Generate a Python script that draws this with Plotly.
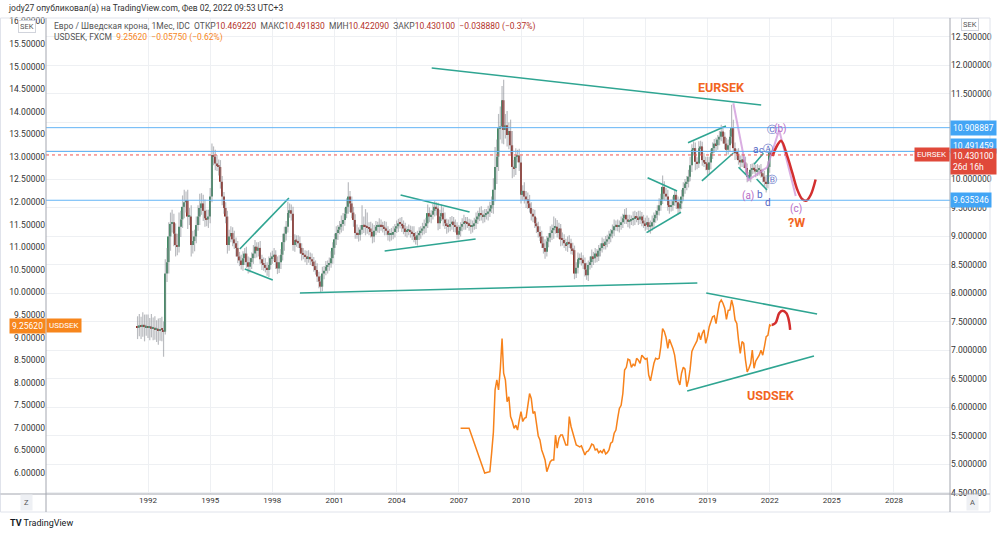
import pandas as pd
import plotly.graph_objects as go

# ---------------- data ----------------
eur_first_month = "1991-07-01"
eur_first_open = 7.42
eur_close = [
    7.40, 7.44, 7.42, 7.45, 7.41, 7.43,
    7.40, 7.42, 7.38, 7.40, 7.37, 7.38, 7.35, 7.37, 7.36, 7.33, 8.35, 8.55,
    9.00, 9.22, 9.25, 9.05, 8.85, 8.82, 9.17, 9.30, 9.52, 9.60, 9.64, 9.35,
    9.35, 8.85, 8.92, 9.00, 9.20, 9.35, 9.50, 9.58, 9.45, 9.32, 9.30, 9.35,
    9.70, 10.43, 10.40, 10.28, 10.25, 10.22, 9.96, 9.70, 9.50, 9.35, 8.85, 9.00,
    9.06, 8.95, 8.88, 8.80, 8.65, 8.58, 8.50, 8.62, 8.70, 8.55, 8.47, 8.55,
    8.62, 8.70, 8.82, 8.75, 8.80, 8.60, 8.53, 8.50, 8.45, 8.41, 8.50, 8.62,
    8.65, 8.68, 8.55, 8.44, 8.55, 8.68, 8.90, 9.05, 9.17, 9.41, 9.46, 9.40,
    8.85, 8.94, 8.92, 8.88, 8.80, 8.70, 8.68, 8.65, 8.62, 8.64, 8.60, 8.56,
    8.48, 8.41, 8.30, 8.21, 8.12, 8.35, 8.40, 8.47, 8.50, 8.53, 8.62, 8.80,
    8.95, 9.06, 9.12, 9.17, 9.22, 9.29, 9.40, 9.52, 9.70, 9.58, 9.42, 9.29,
    9.06, 9.04, 9.03, 9.12, 9.20, 9.18, 9.17, 9.15, 9.14, 9.08, 9.00, 9.10,
    9.17, 9.18, 9.20, 9.18, 9.17, 9.14, 9.10, 9.03, 9.03, 9.03, 9.08, 9.14,
    9.18, 9.23, 9.22, 9.20, 9.14, 9.08, 9.10, 9.11, 9.08, 9.06, 9.00, 8.94,
    9.02, 9.06, 9.10, 9.14, 9.18, 9.23, 9.41, 9.35, 9.38, 9.45, 9.52, 9.49,
    9.23, 9.35, 9.41, 9.30, 9.23, 9.20, 9.17, 9.22, 9.26, 9.20, 9.17, 9.03,
    9.10, 9.17, 9.22, 9.26, 9.24, 9.23, 9.20, 9.17, 9.20, 9.23, 9.30, 9.35,
    9.41, 9.38, 9.35, 9.38, 9.40, 9.44, 9.49, 9.55, 9.82, 10.22, 10.40, 10.90,
    10.93, 11.39, 10.87, 10.95, 10.78, 10.85, 10.60, 10.22, 10.20, 10.40, 10.42, 10.30,
    9.73, 9.80, 9.70, 9.65, 9.58, 9.50, 9.40, 9.35, 9.23, 9.18, 9.08, 9.00,
    8.88, 8.80, 8.73, 8.91, 8.98, 9.06, 9.11, 9.15, 9.17, 9.06, 9.14, 8.95,
    8.94, 8.88, 8.85, 8.90, 8.88, 8.79, 8.76, 8.35, 8.45, 8.60, 8.62, 8.59,
    8.53, 8.42, 8.32, 8.50, 8.55, 8.65, 8.62, 8.70, 8.65, 8.75, 8.80, 8.88,
    8.85, 8.91, 8.95, 9.00, 9.05, 9.11, 9.18, 9.20, 9.17, 9.20, 9.25, 9.32,
    9.38, 9.30, 9.26, 9.28, 9.29, 9.32, 9.35, 9.33, 9.30, 9.35, 9.28, 9.23,
    9.20, 9.25, 9.17, 9.18, 9.25, 9.32, 9.38, 9.45, 9.55, 9.65, 9.87, 9.75,
    9.70, 9.55, 9.52, 9.55, 9.62, 9.73, 9.60, 9.49, 9.58, 9.70, 9.85, 9.93,
    9.96, 10.05, 10.25, 10.52, 10.55, 10.31, 10.28, 10.55, 10.58, 10.34, 10.30, 10.28,
    10.17, 10.30, 10.46, 10.55, 10.63, 10.60, 10.70, 10.75, 10.84, 10.75, 10.63, 10.52,
    10.60, 10.75, 10.90, 10.55, 10.46, 10.45, 10.34, 10.30, 10.35, 10.30, 10.20, 10.05,
    10.05, 10.17, 10.20, 10.18, 10.14, 10.17, 10.17, 10.11, 10.05, 9.96, 9.92, 10.22,
    10.47, 10.43,
]
# wick lengths beyond the body, in hundredths of SEK
eur_wick_up = [
    18, 20, 15, 22, 18, 20,
    20, 15, 22, 18, 20, 15, 18, 20, 22, 15, 25, 25,
    25, 20, 22, 15, 18, 20, 25, 15, 20, 22, 15, 18,
    15, 20, 18, 12, 15, 20, 25, 18, 15, 20, 15, 12,
    15, 20, 15, 12, 15, 10, 12, 10, 8, 10, 10, 12,
    12, 10, 15, 10, 12, 8, 10, 12, 10, 12, 10, 8,
    10, 15, 12, 8, 10, 12, 8, 10, 12, 10, 15, 10,
    10, 12, 8, 10, 12, 10, 15, 12, 10, 20, 12, 10,
    12, 10, 8, 10, 12, 8, 10, 8, 10, 12, 8, 10,
    8, 10, 12, 8, 10, 12, 8, 10, 8, 10, 12, 10,
    10, 12, 8, 10, 15, 12, 10, 15, 25, 10, 12, 10,
    10, 15, 12, 8, 35, 15, 30, 25, 10, 12, 15, 10,
    10, 8, 12, 10, 8, 10, 12, 8, 10, 12, 10, 8,
    10, 8, 10, 12, 8, 10, 8, 10, 8, 10, 12, 8,
    8, 10, 8, 10, 12, 10, 15, 10, 8, 12, 10, 8,
    10, 12, 15, 10, 12, 8, 10, 12, 10, 8, 10, 8,
    10, 8, 10, 12, 8, 10, 8, 10, 8, 10, 12, 10,
    10, 12, 8, 10, 8, 10, 12, 15, 20, 35, 30, 25,
    35, 25, 36, 20, 25, 15, 20, 25, 12, 15, 10, 12,
    12, 10, 15, 10, 12, 15, 10, 8, 12, 10, 8, 10,
    10, 12, 15, 10, 8, 12, 10, 20, 15, 12, 10, 8,
    12, 10, 8, 10, 12, 8, 10, 8, 10, 12, 8, 10,
    8, 10, 12, 8, 10, 12, 8, 10, 8, 10, 8, 10,
    8, 10, 8, 10, 8, 10, 12, 8, 10, 8, 10, 8,
    10, 12, 8, 10, 8, 12, 10, 8, 12, 10, 8, 10,
    10, 12, 8, 10, 12, 10, 8, 10, 12, 10, 20, 10,
    10, 12, 8, 10, 8, 10, 8, 10, 8, 12, 10, 8,
    10, 12, 15, 10, 12, 10, 8, 12, 10, 8, 12, 10,
    12, 10, 8, 10, 8, 10, 8, 10, 12, 10, 8, 10,
    10, 12, 41, 15, 10, 8, 10, 8, 10, 8, 10, 8,
    8, 10, 8, 10, 8, 10, 8, 10, 8, 10, 12, 10,
    8, 2,
]
eur_wick_dn = [
    20, 15, 22, 18, 25, 15,
    18, 22, 15, 20, 18, 22, 25, 18, 20, 44, 5, 15,
    20, 25, 15, 22, 20, 15, 10, 18, 15, 20, 18, 22,
    15, 20, 15, 18, 12, 10, 15, 12, 18, 15, 12, 15,
    12, 10, 15, 12, 10, 15, 12, 15, 10, 12, 15, 10,
    10, 12, 10, 15, 12, 10, 8, 10, 12, 10, 12, 10,
    12, 10, 8, 12, 10, 8, 12, 10, 8, 10, 12, 8,
    10, 8, 12, 10, 8, 12, 10, 15, 12, 10, 8, 12,
    10, 12, 10, 8, 10, 12, 8, 10, 12, 8, 10, 8,
    10, 8, 10, 12, 10, 8, 10, 8, 12, 10, 8, 10,
    12, 10, 12, 8, 10, 12, 10, 8, 12, 15, 10, 12,
    10, 8, 12, 10, 8, 12, 15, 10, 12, 10, 12, 10,
    8, 10, 12, 8, 10, 12, 8, 10, 12, 10, 8, 10,
    8, 10, 8, 12, 10, 8, 10, 8, 10, 12, 10, 8,
    10, 8, 10, 8, 10, 12, 8, 10, 12, 8, 10, 12,
    12, 10, 8, 12, 10, 15, 10, 8, 10, 12, 10, 8,
    8, 10, 8, 10, 12, 8, 10, 12, 10, 8, 10, 8,
    8, 10, 12, 10, 8, 12, 10, 8, 15, 20, 30, 25,
    20, 30, 25, 15, 20, 25, 15, 20, 15, 12, 10, 15,
    15, 10, 12, 15, 10, 8, 12, 10, 8, 12, 10, 8,
    8, 10, 12, 8, 10, 8, 12, 15, 10, 8, 10, 12,
    10, 8, 10, 12, 8, 10, 8, 10, 8, 10, 8, 10,
    10, 12, 8, 10, 8, 10, 12, 8, 10, 8, 10, 8,
    8, 8, 10, 8, 10, 8, 10, 8, 8, 10, 8, 10,
    10, 8, 10, 12, 8, 10, 12, 8, 10, 8, 10, 8,
    10, 8, 10, 12, 8, 10, 8, 10, 8, 10, 8, 12,
    8, 10, 12, 8, 10, 8, 12, 10, 8, 10, 8, 10,
    12, 10, 8, 12, 10, 15, 10, 8, 12, 10, 8, 12,
    10, 8, 12, 10, 8, 10, 8, 10, 8, 12, 10, 8,
    8, 10, 12, 10, 12, 10, 8, 10, 8, 10, 12, 10,
    8, 10, 8, 8, 10, 8, 10, 8, 10, 8, 15, 8,
    10, 1,
]

usd_gap_dates = ["2007-02-01", "2007-07-01"]
usd_gap_values = [6.99, 6.99]
usd_first_month = "2008-04-01"
usd_values = [
    6.00, 6.01, 6.02, 6.03, 6.44, 6.90, 7.84, 8.06, 7.84,
    8.30, 8.98, 8.21, 8.06, 7.58, 7.69, 7.25, 7.14, 6.99, 7.06, 6.95, 7.17,
    7.36, 7.14, 7.21, 7.23, 7.50, 7.76, 7.65, 7.32, 7.36, 7.03, 6.82, 6.73,
    6.51, 6.40, 6.29, 6.03, 6.14, 6.25, 6.29, 6.29, 6.84, 6.55, 6.77, 6.84,
    6.84, 6.73, 6.62, 6.62, 7.25, 7.03, 6.88, 6.75, 6.62, 6.60, 6.58, 6.60,
    6.51, 6.40, 6.47, 6.49, 6.55, 6.64, 6.62, 6.51, 6.53, 6.45, 6.49, 6.45,
    6.53, 6.42, 6.45, 6.51, 6.66, 6.69, 6.88, 6.95, 7.21, 7.43, 7.50, 7.76,
    8.28, 8.34, 8.52, 8.50, 8.34, 8.41, 8.37, 8.54, 8.50, 8.43, 8.61, 8.56,
    8.52, 8.54, 8.17, 8.04, 8.24, 8.43, 8.54, 8.52, 8.54, 8.80, 9.20, 9.13,
    9.00, 8.76, 8.96, 8.87, 8.76, 8.61, 8.28, 8.06, 7.95, 8.21, 8.34, 8.30,
    7.91, 8.06, 8.30, 8.69, 8.78, 8.86, 8.93, 9.11, 8.95, 9.09, 9.17, 8.87,
    9.02, 9.24, 9.37, 9.46, 9.48, 9.31, 9.55, 9.77, 9.83, 9.76, 9.65, 9.40,
    9.60, 9.61, 9.83, 9.68, 9.39, 9.31, 8.95, 8.65, 8.91, 8.87, 8.50, 8.24,
    8.32, 8.43, 8.72, 8.32, 8.48, 8.54, 8.61, 8.72, 8.61, 8.80, 9.02, 9.05,
    9.28, 9.2562,
]

# analyst drawings: (decimal year, price)
eur_trendlines = [
    [(2005.69, 11.956), (2021.59, 11.307)],
    [(1999.33, 8.009), (2018.51, 8.184)],
    [(1996.43, 8.781), (1998.80, 9.675)],
    [(1996.67, 8.430), (1998.02, 8.237)],
    [(2004.19, 9.728), (2007.52, 9.430)],
    [(2003.42, 8.746), (2007.81, 8.956)],
    [(2016.11, 10.030), (2017.53, 9.798)],
    [(2016.06, 9.067), (2017.72, 9.424)],
    [(2018.06, 10.646), (2019.89, 10.939)],
    [(2018.73, 9.974), (2020.24, 10.460)],
    [(2020.50, 10.214), (2021.05, 10.014)],
    [(2021.37, 10.009), (2021.87, 9.816)],
    [(2021.25, 10.267), (2021.70, 10.460)],
]
usd_trendlines = [
    [(2018.94, 9.986), (2024.29, 9.521)],
    [(2018.02, 7.816), (2024.14, 8.591)],
]
eur_wave_path = [(2020.25, 11.337), (2020.97, 9.99), (2021.88, 10.214),
                 (2022.46, 10.868), (2023.26, 9.71)]
eur_projection = [(2022.135, 10.41), (2022.376, 10.605), (2022.554, 10.68),
                  (2022.858, 10.40), (2023.099, 10.11), (2023.34, 9.816),
                  (2023.58, 9.652), (2023.773, 9.628), (2023.98, 9.728),
                  (2024.22, 10.0)]
usd_projection = [(2022.105, 9.277), (2022.29, 9.328), (2022.458, 9.536),
                  (2022.617, 9.594), (2022.81, 9.536), (2022.94, 9.35),
                  (2022.99, 9.17)]

eur_price_lines = [10.908887, 10.491459, 9.635346]
eur_last = 10.430100
usd_last = 9.25620

year_ticks = list(range(1992, 2029, 3))
left_ticks = [6.0 + 0.5 * i for i in range(21)]
right_ticks = [4.5 + 0.5 * i for i in range(17)]
right_hidden = [10.5, 11.0]   # covered by the price labels


def yr(t):
    y = int(t)
    ts = pd.Timestamp(year=y, month=1, day=1) + pd.Timedelta(days=(t - y) * 365.25)
    return ts.strftime("%Y-%m-%d %H:%M")


# ---------------- derived candle geometry ----------------
dates = pd.date_range(eur_first_month, periods=len(eur_close), freq="MS")
opens = [eur_first_open] + eur_close[:-1]
opens[-1] = 10.469220
highs = [max(o, c) + u / 100 for o, c, u in zip(opens, eur_close, eur_wick_up)]
lows = [min(o, c) - d / 100 for o, c, d in zip(opens, eur_close, eur_wick_dn)]

GREEN = "#3f8a62"
RED = "#962f25"
body_base, body_h, body_col = [], [], []
for o, c in zip(opens, eur_close):
    body_base.append(min(o, c))
    body_h.append(max(abs(c - o), 0.025))
    body_col.append(GREEN if c >= o else RED)

wx, wy = [], []
for d, h, l in zip(dates, highs, lows):
    wx += [d, d, None]
    wy += [l, h, None]

usd_dates = list(pd.to_datetime(usd_gap_dates)) + list(
    pd.date_range(usd_first_month, periods=len(usd_values), freq="MS"))
usd_all = usd_gap_values + usd_values

fig = go.Figure()

fig.add_trace(go.Scatter(x=usd_dates, y=usd_all, mode="lines", yaxis="y",
                         line=dict(color="#f7821b", width=1.5), hoverinfo="skip"))

fig.add_trace(go.Scatter(x=wx, y=wy, mode="lines", yaxis="y2",
                         line=dict(color="rgba(140,143,150,0.6)", width=1.2),
                         hoverinfo="skip"))
fig.add_trace(go.Bar(x=dates, y=body_h, base=body_base, yaxis="y2",
                     width=28 * 24 * 3600 * 1000,
                     marker=dict(color=body_col, line=dict(width=0)),
                     hoverinfo="skip"))

TEAL = "#2fa592"
for seg in eur_trendlines:
    fig.add_trace(go.Scatter(x=[yr(p[0]) for p in seg], y=[p[1] for p in seg],
                             mode="lines", yaxis="y2",
                             line=dict(color=TEAL, width=1.6), hoverinfo="skip"))
for seg in usd_trendlines:
    fig.add_trace(go.Scatter(x=[yr(p[0]) for p in seg], y=[p[1] for p in seg],
                             mode="lines", yaxis="y",
                             line=dict(color=TEAL, width=1.6), hoverinfo="skip"))

fig.add_trace(go.Scatter(x=[yr(p[0]) for p in eur_wave_path], y=[p[1] for p in eur_wave_path],
                         mode="lines", yaxis="y2",
                         line=dict(color="rgba(206,147,216,0.75)", width=2),
                         hoverinfo="skip"))
fig.add_trace(go.Scatter(x=[yr(p[0]) for p in eur_projection], y=[p[1] for p in eur_projection],
                         mode="lines", yaxis="y2", line_shape="spline",
                         line=dict(color="#d32f2f", width=2.5), hoverinfo="skip"))
fig.add_trace(go.Scatter(x=[yr(p[0]) for p in usd_projection], y=[p[1] for p in usd_projection],
                         mode="lines", yaxis="y", line_shape="spline",
                         line=dict(color="#d32f2f", width=2.5), hoverinfo="skip"))

FONT = "Roboto, 'Open Sans', sans-serif"
GRID = "#eef0f3"
AXC = "#a3a6af"

fig.update_layout(
    width=1000, height=534,
    margin=dict(l=46, r=50, t=18, b=40, autoexpand=False),
    paper_bgcolor="white", plot_bgcolor="white",
    showlegend=False,
    font=dict(family=FONT, size=8, color="#131722"),
    xaxis=dict(type="date", range=["1987-01-29", "2030-09-15"], automargin=False,
               tickvals=[f"{y}-01-01" for y in year_ticks],
               ticktext=[str(y) for y in year_ticks],
               showgrid=True, gridcolor=GRID, zeroline=False, showline=False,
               ticks="", tickfont=dict(size=8, color="#333")),
    yaxis=dict(range=[5.535, 16.076], tickvals=left_ticks, automargin=False,
               ticktext=[f"{v:.5f}" for v in left_ticks],
               showgrid=False, zeroline=False, ticks="", side="left",
               tickfont=dict(size=8.5, color="#333")),
    yaxis2=dict(range=[4.482, 12.833], overlaying="y", side="right", automargin=False,
                tickvals=right_ticks,
                ticktext=["" if v in right_hidden else f"{v:.6f}" for v in right_ticks],
                showgrid=True, gridcolor=GRID, zeroline=False, ticks="",
                tickfont=dict(size=8.5, color="#333")),
)

shapes = []
for p in eur_price_lines:
    shapes.append(dict(type="line", xref="paper", x0=0, x1=1, yref="y2", y0=p, y1=p,
                       line=dict(color="#64b5f6", width=1)))
shapes.append(dict(type="line", xref="paper", x0=0, x1=1, yref="y2", y0=eur_last, y1=eur_last,
                   line=dict(color="#ef5350", width=1, dash="dot")))


def px(xp):
    return (xp - 46) / 904


def py(yp):
    return (494 - yp) / 476


shapes += [
    dict(type="rect", xref="paper", yref="paper", x0=px(0.5), x1=px(990), y0=py(512), y1=py(18),
         line=dict(color="#e0e3eb", width=1)),
    dict(type="line", xref="paper", yref="paper", x0=px(46), x1=px(46), y0=py(512), y1=py(18),
         line=dict(color=AXC, width=1)),
    dict(type="line", xref="paper", yref="paper", x0=px(950), x1=px(950), y0=py(512), y1=py(18),
         line=dict(color=AXC, width=1)),
    dict(type="line", xref="paper", yref="paper", x0=px(0.5), x1=px(990), y0=py(494), y1=py(494),
         line=dict(color=AXC, width=1)),
]
fig.update_layout(shapes=shapes)

ann = []
ORANGE_T = "#f26522"
PURPLE = "#b86cc6"
BLUE = "#5566c4"


def txt(t, x, y, ref, color, size=9, bold=False, fam=FONT):
    ann.append(dict(x=yr(x), y=y, xref="x", yref=ref, text=f"<b>{t}</b>" if bold else t,
                    xanchor="center", yanchor="middle",
                    showarrow=False, font=dict(color=color, size=size, family=fam)))


txt("EURSEK", 2019.66, 11.62, "y2", ORANGE_T, 12.5, True)
txt("USDSEK", 2022.07, 7.727, "y", ORANGE_T, 12.5, True)
txt("?W", 2023.28, 9.254, "y2", ORANGE_T, 12.5, True)
txt("(c)", 2023.28, 9.483, "y2", PURPLE, 10)
txt("(a)", 2020.96, 9.71, "y2", PURPLE, 10)
txt("b", 2021.54, 9.73, "y2", BLUE, 10)
txt("d", 2021.93, 9.59, "y2", BLUE, 10)
txt("a", 2021.30, 10.52, "y2", BLUE, 10)
txt("c", 2021.62, 10.52, "y2", BLUE, 9)
txt("Ⓐ", 2021.93, 10.54, "y2", BLUE, 10, fam="DejaVu Sans")
txt("Ⓑ", 2022.13, 10.00, "y2", BLUE, 10, fam="DejaVu Sans")
txt("Ⓒ", 2022.12, 10.87, "y2", BLUE, 10, fam="DejaVu Sans")
txt("(b)", 2022.52, 10.89, "y2", PURPLE, 10)


# price-scale labels
def box(text, y, ref, color, side, yshift=0, valign="middle"):
    ann.append(dict(x=1 if side == "r" else 0, xref="paper", y=y, yref=ref, text=text,
                    xanchor="left" if side == "r" else "right", yanchor=valign,
                    yshift=yshift, showarrow=False, bgcolor=color, borderpad=2,
                    align="left", font=dict(color="white", size=8.5, family=FONT)))


box("10.908887", 10.908887, "y2", "#42a5f5", "r")
box("10.491459", 10.491459, "y2", "#42a5f5", "r", yshift=5)
box("9.635346", 9.635346, "y2", "#42a5f5", "r")
box("10.430100<br>26d 16h", eur_last, "y2", "#e0493a", "r", yshift=7, valign="top")
ann.append(dict(x=1, xref="paper", y=eur_last, yref="y2", text="EURSEK", xanchor="right",
                yanchor="middle", showarrow=False, bgcolor="#e0493a", borderpad=2,
                font=dict(color="white", size=8, family=FONT)))
box(f"{usd_last:.5f}", usd_last, "y", "#f7861c", "l")
ann.append(dict(x=0, xref="paper", y=usd_last, yref="y", text="USDSEK", xanchor="left",
                yanchor="middle", showarrow=False, bgcolor="#f7861c", borderpad=2,
                font=dict(color="white", size=8, family=FONT)))


def paper_text(text, xp_, yp_, xanchor="center", **kw):
    d = dict(x=px(xp_), y=py(yp_), xref="paper", yref="paper", text=text, showarrow=False,
             xanchor=xanchor, yanchor="middle")
    d.update(kw)
    ann.append(d)


# SEK badges, Z / A, header, legend, logo
for xp_, yp_ in [(27, 26), (970, 25)]:
    paper_text("SEK", xp_, yp_, bgcolor="white", bordercolor="#d1d4dc", borderwidth=1,
               borderpad=1, font=dict(size=7.5, color="#555", family=FONT))
for t, xp_ in [("Z", 26), ("A", 972)]:
    paper_text(t, xp_, 503, bgcolor="#eef0f4", borderpad=3,
               font=dict(size=7.5, color="#555", family=FONT))
paper_text("jody27 опубликовал(а) на TradingView.com, Фев 02, 2022 09:53 UTC+3", 6, 8,
           xanchor="left", font=dict(size=8.5, color="#333", family=FONT))
R = "#b3322a"
leg1 = ("Евро / Шведская крона, 1Мес, IDC&nbsp;&nbsp;ОТКР"
        f"<span style='color:{R}'>10.469220</span>&nbsp;&nbsp;МАКС"
        f"<span style='color:{R}'>10.491830</span>&nbsp;&nbsp;МИН"
        f"<span style='color:{R}'>10.422090</span>&nbsp;&nbsp;ЗАКР"
        f"<span style='color:{R}'>10.430100</span>&nbsp;&nbsp;"
        f"<span style='color:{R}'>−0.038880 (−0.37%)</span>")
O = "#f7861c"
leg2 = (f"USDSEK, FXCM&nbsp;&nbsp;<span style='color:{O}'>9.25620</span>&nbsp;&nbsp;"
        f"<span style='color:{O}'>−0.05750 (−0.62%)</span>")
paper_text(leg1, 52, 26, xanchor="left", font=dict(size=8.5, color="#555", family=FONT))
paper_text(leg2, 52, 38, xanchor="left", font=dict(size=8.5, color="#555", family=FONT))
paper_text("<b>TV</b> TradingView", 8, 523, xanchor="left",
           font=dict(size=9, color="#131722", family=FONT))

fig.update_layout(annotations=ann)
fig.write_html("out.html", config={"displayModeBar": False},
               post_script="document.body.style.margin='0';document.body.style.overflow='hidden';")
